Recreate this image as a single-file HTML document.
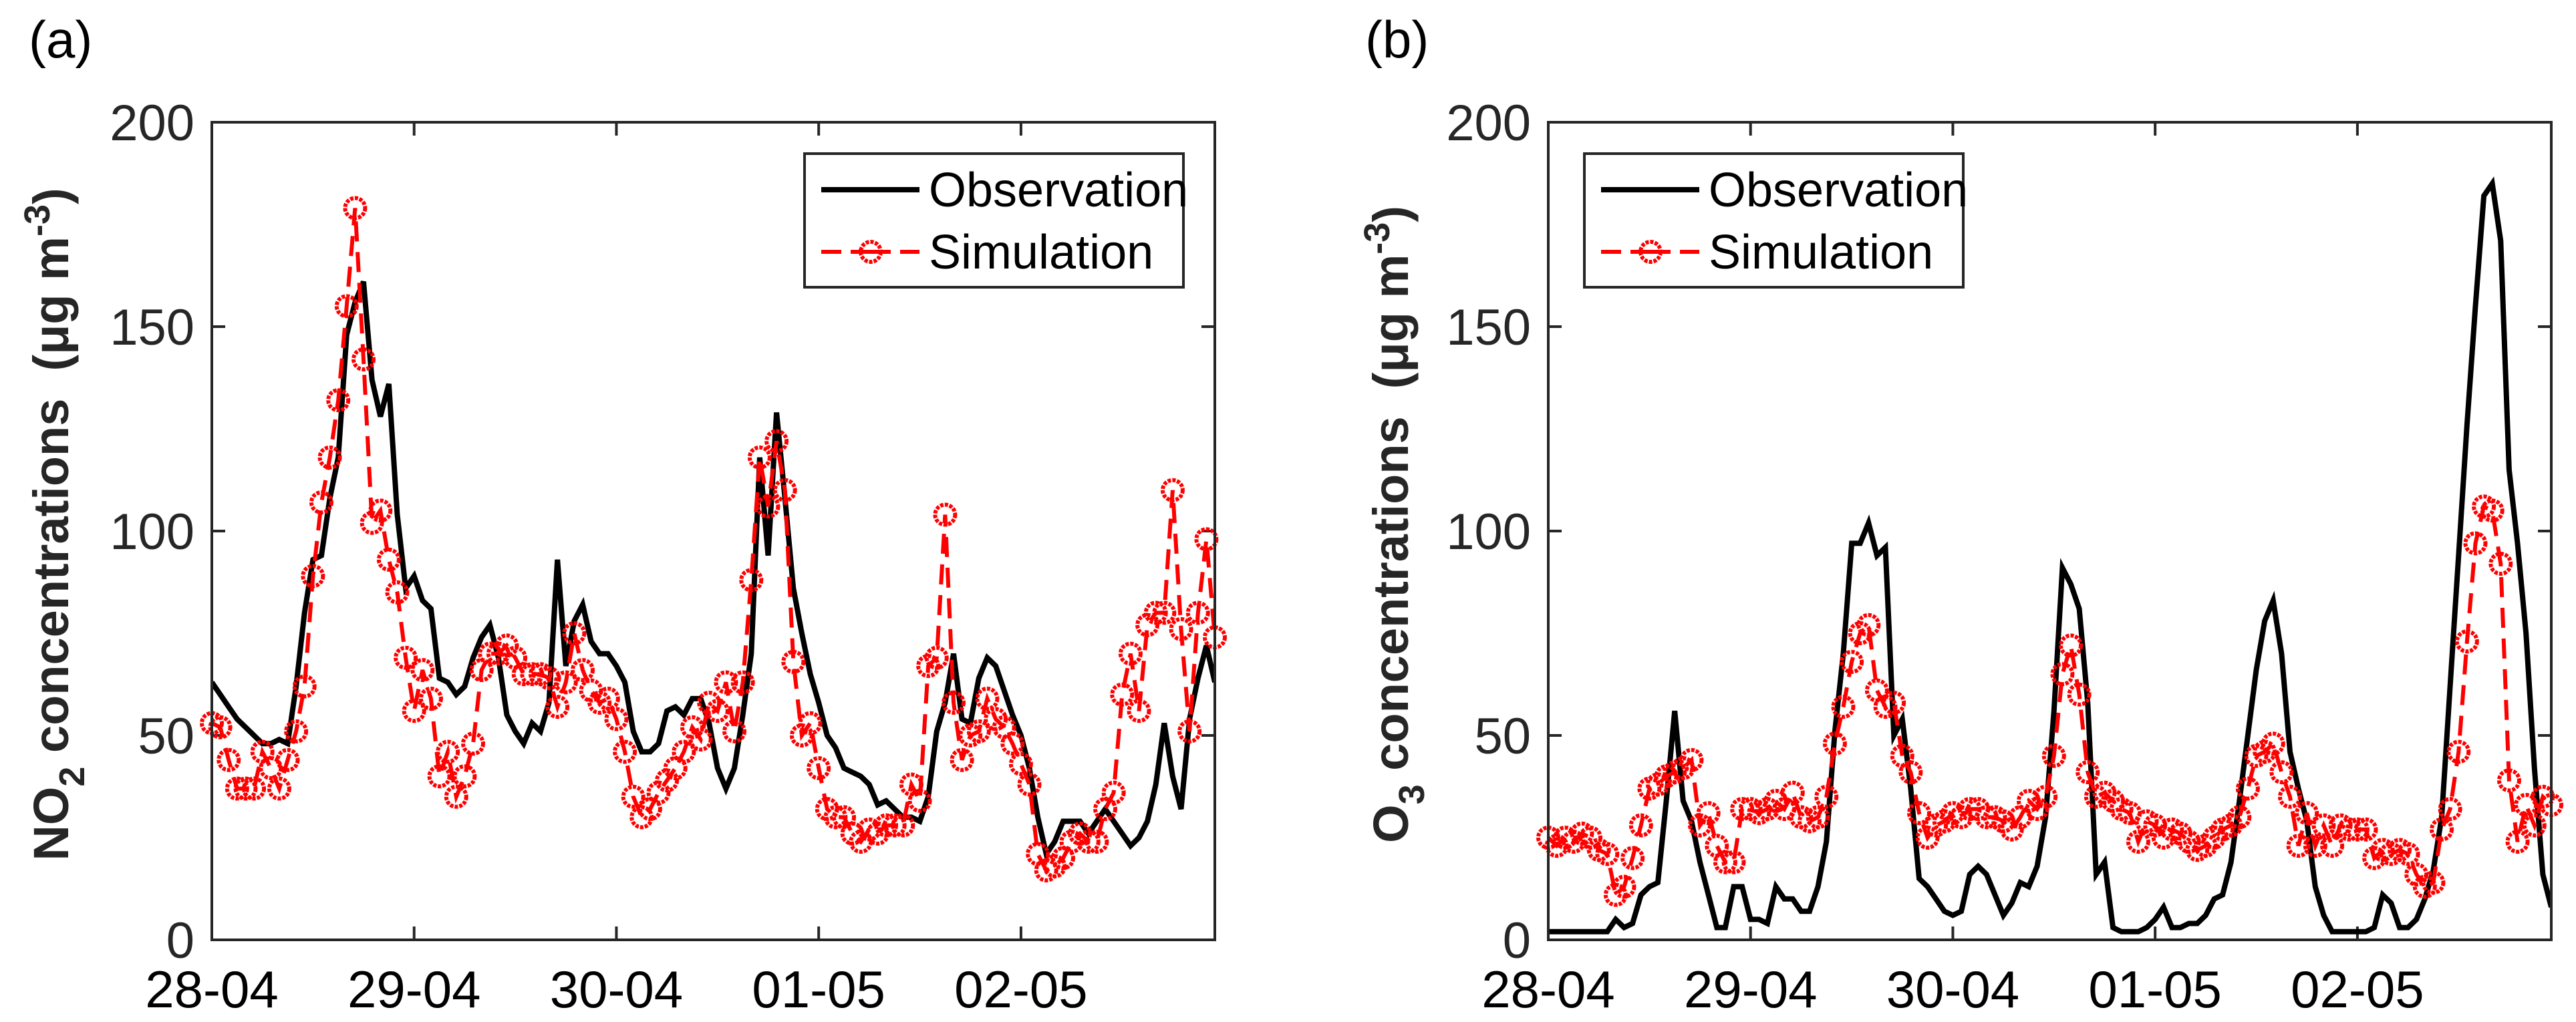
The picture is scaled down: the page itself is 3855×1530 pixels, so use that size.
<!DOCTYPE html>
<html><head><meta charset="utf-8">
<style>
html,body{margin:0;padding:0;background:#fff;}
svg{display:block;font-family:"Liberation Sans",Arial,sans-serif;}
</style></head>
<body>
<svg id="chart" width="3855" height="1530" viewBox="0 0 3855 1530" xmlns="http://www.w3.org/2000/svg">
<rect width="3855" height="1530" fill="#fff"/>
</svg>
<script>
const dayLabels = ["28-04","29-04","30-04","01-05","02-05"];
const dayHours = [0,24,48,72,96];
const yTicks = [0,50,100,150,200];
const no2Obs = [63,60,57,54,52,50,48,48,49,48,62,80,93,94,108,118,148,156,161,137,128,136,104,86,89,83,81,64,63,60,62,69,74,77,69,55,51,48,53,51,58,93,67,78,82,73,70,70,67,63,51,46,46,48,56,57,55,59,59,53,42,37,42,55,70,118,94,129,108,86,75,65,58,50,47,42,41,40,38,33,34,32,30,30,29,35,51,58,70,54,53,64,69,67,61,55,50,42,30,21,24,29,29,29,26,29,32,29,26,23,25,29,38,53,40,32,54,64,72,63];
const no2Sim = [53,52,44,37,37,37,46,42,37,44,51,62,89,107,118,132,155,179,142,102,105,93,85,69,56,66,59,40,46,35,40,48,66,70,70,72,69,65,65,65,64,57,63,75,66,61,58,59,54,46,35,30,32,36,39,42,46,52,49,58,56,63,51,63,88,118,106,122,110,68,50,53,42,32,30,30,26,24,27,26,28,28,28,38,34,67,69,104,58,44,50,51,59,54,52,48,43,38,21,17,18,20,24,26,24,24,32,36,60,70,56,77,80,80,110,76,51,80,98,74];
const o3Obs = [2,2,2,2,2,2,2,2,5,3,4,11,13,14,34,56,34,29,19,11,3,3,13,13,5,5,4,13,10,10,7,7,13,24,51,70,97,97,102,94,96,50,54,37,15,13,10,7,6,7,16,18,16,11,6,9,14,13,18,30,56,91,87,81,58,16,19,3,2,2,2,3,5,8,3,3,4,4,6,10,11,19,34,50,66,78,83,70,46,37,29,13,6,2,2,2,2,2,3,11,9,3,3,5,10,17,30,62,94,126,155,182,185,171,115,97,75,42,16,8];
const o3Sim = [25,23,25,24,26,25,22,21,11,13,20,28,37,38,40,41,42,44,28,31,23,19,19,32,32,31,32,34,32,36,30,29,30,35,48,57,68,75,77,61,57,58,45,41,31,25,28,29,31,30,32,32,30,30,29,27,30,34,32,35,45,65,72,60,41,35,36,34,32,31,24,29,28,25,27,26,24,22,23,25,27,28,30,37,45,46,48,41,35,23,31,23,28,23,28,27,27,27,20,22,21,22,21,16,13,14,27,32,46,73,97,106,105,92,39,24,33,28,35,33];

const NS = "http://www.w3.org/2000/svg";
const svg = document.getElementById('chart');
function mk(tag, attrs, parent){
  const e = document.createElementNS(NS, tag);
  for (const k in attrs) e.setAttribute(k, attrs[k]);
  (parent||svg).appendChild(e);
  return e;
}
const Y0 = 183, Y1 = 1407, XMAX = 119, YMAX = 200;

function drawPanel(id, left, obs, sim, gas, panelLabel, legendX, ylabelX){
  const right = left + 1501;
  const xs = h => left + h / XMAX * (right - left);
  const ys = v => Y1 - v / YMAX * (Y1 - Y0);
  const g = mk('g', {});
  
  

  const pl = mk('text', {x: left - 274, y: 86, 'font-size': 78, fill: '#000'}, g);
  pl.textContent = panelLabel;
  
  

  yTicks.forEach(v => {
    const t = mk('text', {x: left - 26, y: ys(v) + 27, 'font-size': 76, 'text-anchor': 'end', fill: '#262626'}, g);
    t.textContent = v;
    
    
    if (v > 0 && v < 200) {
      const a = mk('line', {x1: left, x2: left + 20, y1: ys(v), y2: ys(v), stroke: '#262626', 'stroke-width': 4}, g);
      
      
      const b = mk('line', {x1: right, x2: right - 20, y1: ys(v), y2: ys(v), stroke: '#262626', 'stroke-width': 4}, g);
      
      
    }
  });
  dayHours.forEach((h, i) => {
    const t = mk('text', {x: xs(h), y: 1508, 'font-size': 78, 'text-anchor': 'middle', fill: '#000'}, g);
    t.textContent = dayLabels[i];
    
    
    if (h > 0) {
      const a = mk('line', {x1: xs(h), x2: xs(h), y1: Y1, y2: Y1 - 20, stroke: '#262626', 'stroke-width': 4}, g);
      
      
      const b = mk('line', {x1: xs(h), x2: xs(h), y1: Y0, y2: Y0 + 20, stroke: '#262626', 'stroke-width': 4}, g);
      
      
    }
  });

  const yl = mk('text', {transform: `translate(${ylabelX},785) rotate(-90)`, 'font-size': 74, 'font-weight': 'bold', 'text-anchor': 'middle', fill: '#262626'}, g);
  
  
  const t1 = mk('tspan', {}, yl); t1.textContent = gas;
  const t2 = mk('tspan', {dy: 24, 'font-size': 54}, yl); t2.textContent = gas === 'NO' ? '2' : '3';
  const t3 = mk('tspan', {dy: -24}, yl); t3.textContent = '\u00a0concentrations\u00a0\u00a0(μg\u00a0m';
  const t4 = mk('tspan', {dy: -28, 'font-size': 54}, yl); t4.textContent = '-3';
  const t5 = mk('tspan', {dy: 28}, yl); t5.textContent = ')';

  const clip = mk('clipPath', {id: id + 'clip'}, g);
  mk('rect', {x: left, y: Y0 - 30, width: right - left + 2, height: Y1 - Y0 + 30}, clip);
  const obsPath = mk('path', {d: obs.map((v, i) => (i ? 'L' : 'M') + xs(i).toFixed(1) + ',' + ys(v).toFixed(1)).join(''), fill: 'none', stroke: '#000', 'stroke-width': 8, 'stroke-linejoin': 'miter', 'clip-path': `url(#${id}clip)`}, g);
  
  
  const simPath = mk('path', {d: sim.map((v, i) => (i ? 'L' : 'M') + xs(i).toFixed(1) + ',' + ys(v).toFixed(1)).join(''), fill: 'none', stroke: '#ff0000', 'stroke-width': 6, 'stroke-dasharray': '30 16'}, g);
  
  
  sim.forEach((v, i) => {
    const c = mk('circle', {cx: xs(i), cy: ys(v), r: 15, fill: 'none', stroke: '#ff0000', 'stroke-width': 6, 'stroke-dasharray': '5 2'}, g);
    
    
  });

  const box = mk('rect', {x: left, y: Y0, width: right - left, height: Y1 - Y0, fill: 'none', stroke: '#262626', 'stroke-width': 4}, g);
  
  

  const lg = mk('g', {}, g);
  
  
  mk('rect', {x: legendX, y: 230, width: 567, height: 200, fill: '#fff', stroke: '#262626', 'stroke-width': 4}, lg);
  const e1 = mk('g', {}, lg);
  
  
  mk('line', {x1: legendX + 25, x2: legendX + 172, y1: 284, y2: 284, stroke: '#000', 'stroke-width': 8}, e1);
  const l1 = mk('text', {x: legendX + 186, y: 309, 'font-size': 72, fill: '#000'}, e1); l1.textContent = 'Observation';
  const e2 = mk('g', {}, lg);
  
  
  mk('line', {x1: legendX + 25, x2: legendX + 172, y1: 377, y2: 377, stroke: '#ff0000', 'stroke-width': 6, 'stroke-dasharray': '30 14 60 14 30'}, e2);
  mk('circle', {cx: legendX + 99, cy: 377, r: 15, fill: 'none', stroke: '#ff0000', 'stroke-width': 6, 'stroke-dasharray': '5 2'}, e2);
  const l2 = mk('text', {x: legendX + 186, y: 402, 'font-size': 72, fill: '#000'}, e2); l2.textContent = 'Simulation';
}
drawPanel('no2', 317, no2Obs, no2Sim, 'NO', '(a)', 1204, 102);
drawPanel('o3', 2317, o3Obs, o3Sim, 'O', '(b)', 2371, 2107);
</script>
</body></html>
